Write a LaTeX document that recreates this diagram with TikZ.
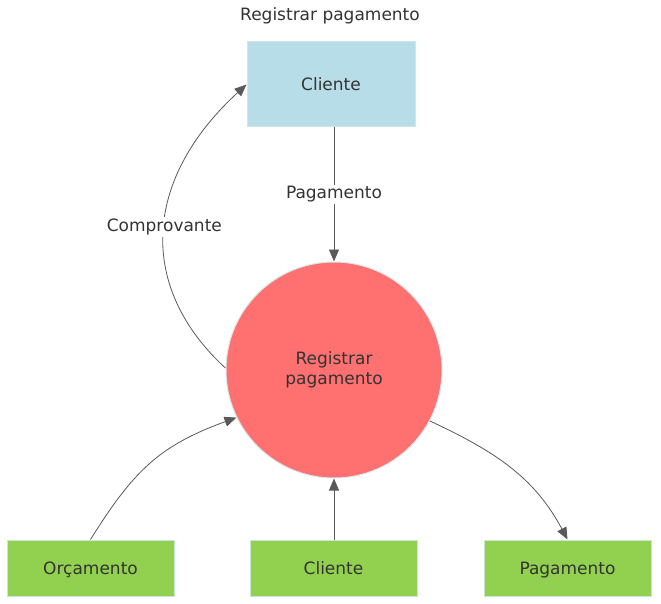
\documentclass[tikz,border=0pt]{standalone}
\usepackage{fontspec}
\setmainfont{DejaVu Sans}
\usetikzlibrary{arrows.meta}
\definecolor{txt}{HTML}{333333}
\definecolor{edge}{HTML}{595959}
\definecolor{bluefill}{HTML}{B7DDE8}
\definecolor{blueline}{HTML}{CFE6EC}
\definecolor{redfill}{HTML}{FF7171}
\definecolor{redline}{HTML}{D9E8EC}
\definecolor{greenfill}{HTML}{92D050}
\definecolor{greenline}{HTML}{C9E6D6}
\tikzset{
  every node/.style={text=txt, font=\fontsize{17}{20}\selectfont},
  bluebox/.style={draw=blueline, fill=bluefill, line width=1pt, minimum width=168pt, minimum height=85pt, inner sep=0pt, text height=15.5pt, text depth=3pt},
  greenbox/.style={draw=greenline, fill=greenfill, line width=1pt, minimum width=167pt, minimum height=56pt, inner sep=0pt, text height=15.5pt, text depth=3pt},
  procnode/.style={circle, draw=redline, fill=redfill, line width=1pt, minimum size=216pt, inner sep=0pt, align=center},
  flow/.style={draw=edge, line width=0.8pt, -{Triangle[length=12pt,width=10pt]}},
  flowlabel/.style={fill=white, inner sep=2pt}
}
\begin{document}
\begin{tikzpicture}[x=1pt,y=-1pt]
\useasboundingbox (0,0) rectangle (661,604);
\node (title) at (330,16) {Registrar pagamento};
\node[bluebox] (top) at (331,84.5) {Cliente};
\node[procnode] (proc) at (334,370) {Registrar\\pagamento};
\node[greenbox] (orc) at (90.5,568) {Orçamento};
\node[greenbox] (cli) at (333.5,568) {Cliente};
\node[greenbox] (pag) at (567.5,568) {Pagamento};

\draw[flow] (proc.north |- top.south) -- node[flowlabel] {Pagamento} (proc.north);
\draw[flow] (proc.179) .. controls (138.4,288.2) and (141.3,181.1) .. node[flowlabel, pos=0.52] {Comprovante} (top.west);
\draw[flow] (orc.north) to[out=58, in=200, looseness=1.1] (proc.206.8);
\draw[flow] (proc.north |- cli.north) -- (proc.south);
\draw[flow] (proc.332.5) to[out=-25, in=118] (pag.north);
\end{tikzpicture}
\end{document}
